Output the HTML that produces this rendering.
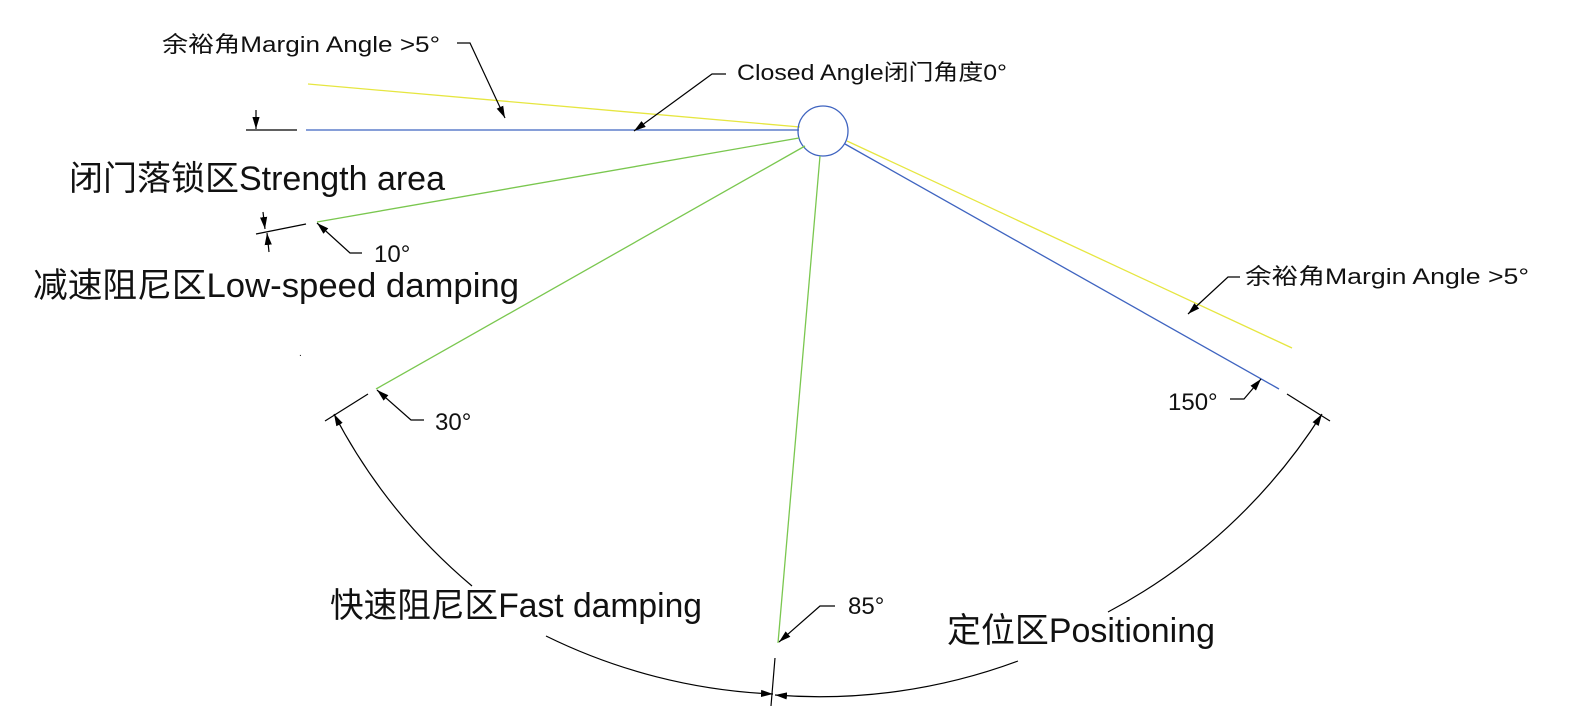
<!DOCTYPE html>
<html><head><meta charset="utf-8"><style>
html,body{margin:0;padding:0;background:#fff;width:1578px;height:720px;overflow:hidden}
svg{display:block}
text{font-family:"Liberation Sans","Noto Sans CJK SC",sans-serif;fill:#111}
</style></head><body>
<svg width="1578" height="720" viewBox="0 0 1578 720" xmlns="http://www.w3.org/2000/svg">
<defs>
<marker id="a" viewBox="0 0 10 10" refX="10" refY="5" markerWidth="12" markerHeight="12" markerUnits="userSpaceOnUse" orient="auto"><path d="M0,2 L10,5 L0,8 z" fill="#000"/></marker>
</defs>
<g fill="none" stroke-width="1.3">
<!-- yellow lines -->
<line x1="308" y1="84" x2="800" y2="127" stroke="#e6e640"/>
<line x1="847" y1="141" x2="1292" y2="348" stroke="#e6e640"/>
<!-- blue lines -->
<line x1="306" y1="130" x2="799" y2="130" stroke="#3f64c0"/>
<line x1="845" y1="144" x2="1279" y2="389" stroke="#3f64c0"/>
<circle cx="823" cy="131" r="25" stroke="#3f64c0"/>
<!-- green lines -->
<line x1="317" y1="222" x2="799" y2="138" stroke="#7ac74f"/>
<line x1="376" y1="389" x2="805" y2="146" stroke="#7ac74f"/>
<line x1="778" y1="643" x2="820" y2="156" stroke="#7ac74f"/>
</g>
<g fill="none" stroke="#000" stroke-width="1.2">
<!-- top tick -->
<line x1="246" y1="130" x2="297" y2="130"/>
<line x1="256" y1="110" x2="256" y2="129" marker-end="url(#a)"/>
<!-- 10 tick -->
<line x1="256" y1="234" x2="306" y2="224"/>
<line x1="263" y1="212" x2="265" y2="229" marker-end="url(#a)"/>
<line x1="269" y1="252" x2="267" y2="233" marker-end="url(#a)"/>
<!-- 30 tick -->
<line x1="325" y1="421" x2="368" y2="394"/>
<!-- 85 tick -->
<line x1="775" y1="658" x2="771" y2="706"/>
<!-- 150 tick -->
<line x1="1287" y1="394" x2="1330" y2="421"/>
<!-- arcs -->
<path d="M472 586 A570 570 0 0 1 334 414" marker-end="url(#a)"/>
<path d="M546 636 A570 570 0 0 0 773 694" marker-end="url(#a)"/>
<path d="M1018 661 A570 570 0 0 1 775 695" marker-end="url(#a)"/>
<path d="M1108 612 A570 570 0 0 0 1322 414" marker-end="url(#a)"/>
<!-- leaders -->
<polyline points="457,43 470,43 505,118" marker-end="url(#a)"/>
<polyline points="726,74 712,74 634,131" marker-end="url(#a)"/>
<polyline points="362,253 350,253 317,223" marker-end="url(#a)"/>
<polyline points="424,420 411,420 377,390" marker-end="url(#a)"/>
<polyline points="835,606 820,606 779,642" marker-end="url(#a)"/>
<polyline points="1230,399 1244,399 1261,379" marker-end="url(#a)"/>
<polyline points="1240,277 1228,277 1188,314" marker-end="url(#a)"/>
</g>
<text x="162" y="52" font-size="22" textLength="278" lengthAdjust="spacingAndGlyphs">余裕角Margin Angle &gt;5°</text>
<text x="737" y="80" font-size="22" textLength="270" lengthAdjust="spacingAndGlyphs">Closed Angle闭门角度0°</text>
<text x="1245" y="284" font-size="22" textLength="284" lengthAdjust="spacingAndGlyphs">余裕角Margin Angle &gt;5°</text>
<text x="69" y="190" font-size="34" textLength="376" lengthAdjust="spacingAndGlyphs">闭门落锁区Strength area</text>
<text x="33" y="297" font-size="34" textLength="486" lengthAdjust="spacingAndGlyphs">减速阻尼区Low-speed damping</text>
<text x="330" y="617" font-size="34" textLength="372" lengthAdjust="spacingAndGlyphs">快速阻尼区Fast damping</text>
<text x="947" y="642" font-size="34" textLength="268" lengthAdjust="spacingAndGlyphs">定位区Positioning</text>
<text x="374" y="262" font-size="24">10°</text>
<text x="435" y="430" font-size="24">30°</text>
<text x="848" y="614" font-size="24">85°</text>
<text x="1168" y="410" font-size="24">150°</text>
<text x="299" y="356" font-size="10">.</text>
</svg>
</body></html>
